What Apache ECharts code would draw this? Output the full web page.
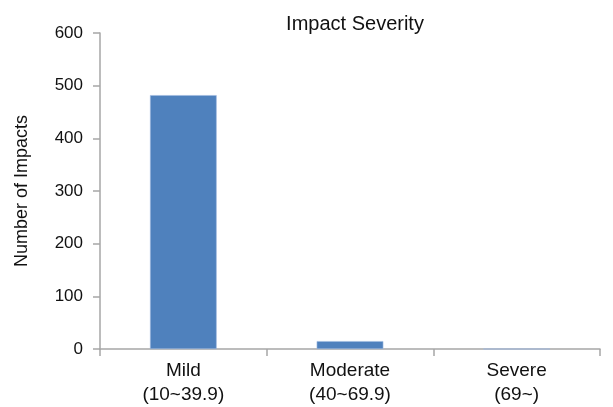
<!DOCTYPE html>
<html><head><meta charset="utf-8">
<script src="https://cdn.jsdelivr.net/npm/echarts@6/dist/echarts.min.js"></script>
<style>html,body{margin:0;padding:0;background:#fff}#c{width:613px;height:407px}</style>
</head><body><div id="c"></div>
<script>
const categories = ['Mild\n(10~39.9)', 'Moderate\n(40~69.9)', 'Severe\n(69~)'];
const impacts = [482, 15, 0];
const yTicks = [0, 100, 200, 300, 400, 500, 600];
const chart = echarts.init(document.getElementById('c'));
const font = '"Liberation Sans", Arial, sans-serif';
chart.setOption({
  animation: false,
  textStyle: { fontFamily: font },
  title: { text: 'Impact Severity', left: 350, top: 9, textAlign: 'center',
    textStyle: { fontFamily: font, fontSize: 20, fontWeight: 'normal', color: '#111' } },
  grid: { left: 100, right: 13, top: 33, bottom: 58, containLabel: false },
  xAxis: {
    type: 'category', data: categories,
    axisLine: { lineStyle: { color: '#a6a6a6', width: 1.5 } },
    axisTick: { show: true, length: 7, lineStyle: { color: '#a6a6a6', width: 1.5 } },
    axisLabel: { fontFamily: font, fontSize: 19, color: '#111', lineHeight: 24, margin: 10 }
  },
  yAxis: {
    type: 'value', min: yTicks[0], max: yTicks[yTicks.length - 1], interval: 100,
    name: 'Number of Impacts', nameLocation: 'middle', nameGap: 69, nameRotate: 90,
    nameTextStyle: { fontFamily: font, fontSize: 18, color: '#111' },
    axisLine: { show: true, lineStyle: { color: '#a6a6a6', width: 1.5 } },
    axisTick: { show: true, length: 7, lineStyle: { color: '#a6a6a6', width: 1.5 } },
    splitLine: { show: false },
    axisLabel: { fontFamily: font, fontSize: 17, color: '#111', margin: 17 }
  },
  series: [{
    type: 'bar', data: impacts, barWidth: '40%',
    itemStyle: { color: '#4f81bd', borderColor: '#9fbbe0', borderWidth: 0.6 }
  }]
});
</script></body></html>
